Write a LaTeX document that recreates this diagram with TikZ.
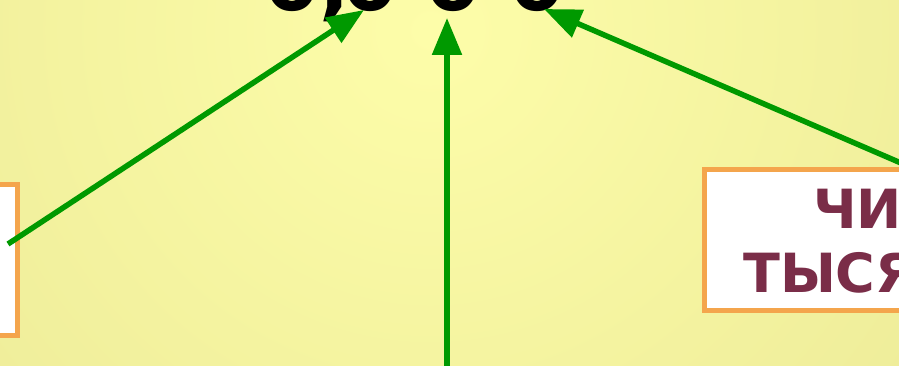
\documentclass[tikz,border=0pt]{standalone}
\usepackage{fontspec}
\setmainfont{DejaVu Sans}
\usetikzlibrary{arrows.meta}
\definecolor{bgin}{HTML}{FDFDA9}
\definecolor{bgout}{HTML}{E2DF8D}
\definecolor{arrowgreen}{HTML}{009900}
\definecolor{boxorange}{HTML}{F4A54C}
\definecolor{labelmaroon}{HTML}{7A2D48}
\begin{document}
\begin{tikzpicture}[x=1pt,y=-1pt,
  arr/.style={draw=arrowgreen, line width=5.5pt, -{Triangle[length=37pt,width=29pt]}},
  framebox/.style={draw=boxorange, line width=5pt, fill=white, inner sep=0pt, outer sep=0pt},
  digits/.style={font=\bfseries\fontsize{80}{96}\selectfont, text=black, inner sep=0pt, anchor=base west},
  boxlabel/.style={font=\bfseries\fontsize{54}{64}\selectfont, text=labelmaroon, inner sep=0pt, anchor=base west}]
\useasboundingbox (0,0) rectangle (899,366);
\begin{scope}
\clip (0,0) rectangle (899,366);
\shade[inner color=bgin, outer color=bgout] (430,30) circle (1100);
\end{scope}
% boxes
\node[framebox, minimum width=260pt, minimum height=150pt, anchor=north east] (lbox) at (17.5,185) {};
\node[framebox, minimum width=420pt, minimum height=141pt, anchor=north west] (rbox) at (704.5,169.5) {};
\node[boxlabel] (rline1) at (813,228) {ЧИ};
\node[boxlabel] (rline2) at (743,292) {ТЫСЯ};
% number
\node[digits] (num) at (264,11) {0,\kern-8pt0 0 0};
% arrows
\coordinate (lstart) at (8,244);
\coordinate (ltip) at (364,10);
\coordinate (cstart) at (447,380);
\coordinate (ctip) at (447,18);
\coordinate (rstart) at (916,169.5);
\coordinate (rtip) at (544,9);
\draw[arr] (lstart) -- (ltip);
\draw[arr] (cstart) -- (ctip);
\draw[arr] (rstart) -- (rtip);
\end{tikzpicture}
\end{document}
